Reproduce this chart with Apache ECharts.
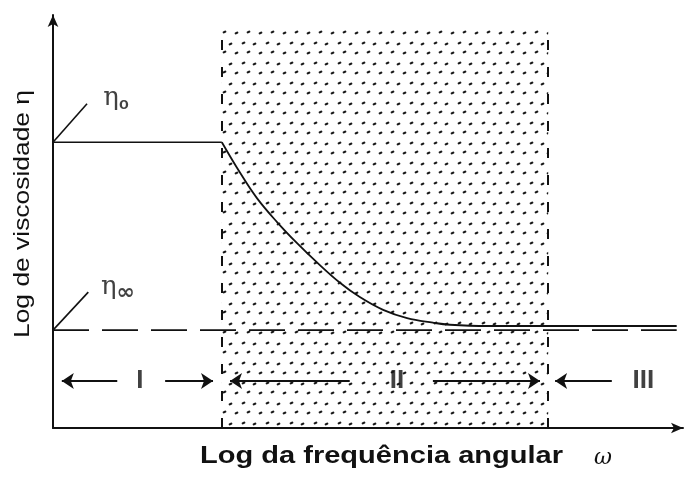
<!DOCTYPE html>
<html>
<head>
<meta charset="utf-8">
<script src="https://cdn.jsdelivr.net/npm/echarts@6/dist/echarts.min.js"></script>
<style>
  html, body { margin: 0; padding: 0; background: #fff; }
  #chart { width: 686px; height: 479px; }
</style>
</head>
<body>
<div id="chart"></div>
<script>
// Schematic: log viscosity vs log angular frequency, three regimes.
const axisRange = [0, 100];
const eta0 = 69.2;          // zero-shear plateau
const etaInf = 23.7;        // infinite-shear level
const regionBounds = [26.8, 78.6];
const regionTop = 96.4;

// Flow curve: plateau, thinning, then settling near eta-infinity
const curveX = [26.8, 29.7, 32.4, 35.6, 38.7, 41.9, 45.6, 48.7, 52.4, 56.2, 60.3, 63.0, 69.0, 75.7, 99.0];
const curveY = [69.2, 61.8, 55.6, 49.8, 44.8, 40.1, 35.1, 31.7, 28.6, 26.6, 25.5, 25.0, 24.7, 24.7, 24.7];

// Regime labels and arrows (tail x, tip x) on one row
const regionLabels = ['I', 'II', 'III'];
const regionLabelX = [13.8, 54.6, 93.7];
const arrowRowY = 11.4;
const arrowSpans = [[10.2, 1.4], [17.8, 25.4], [47.1, 28.1], [60.3, 77.3], [88.7, 79.7]];

// Eta annotations: leader line start/end and label anchor
const etaNames = ['0', 'inf'];
const etaLeaders = [[[0, 69.2], [5.4, 78.5]], [[0, 23.7], [5.6, 32.9]]];
const etaLabelPos = [[10.0, 79.8], [10.3, 34.0]];

// Dotted fill for the shaded middle regime (staggered rows of small dashes)
function dotPattern() {
  const c = document.createElement('canvas');
  c.width = 24; c.height = 20;
  const g = c.getContext('2d');
  g.fillStyle = '#1a1a1a';
  const dots = [[2, 2], [13, 3], [7, 11], [19, 12]];
  dots.forEach(d => {
    g.beginPath();
    g.ellipse(d[0] + 1.5, d[1] + 1, 2, 1.2, -0.4, 0, Math.PI * 2);
    g.fill();
  });
  return c;
}

const chart = echarts.init(document.getElementById('chart'), null, { renderer: 'canvas' });

const curveData = curveX.map((x, i) => [x, curveY[i]]);

chart.setOption({
  animation: false,
  backgroundColor: '#fff',
  grid: { left: 53, right: 3, top: 15, bottom: 51 },
  xAxis: {
    type: 'value', min: axisRange[0], max: axisRange[1],
    axisLine: { show: true, onZero: false, lineStyle: { color: '#111', width: 2 }, symbol: ['none', 'arrow'], symbolSize: [8, 12] },
    axisTick: { show: false }, axisLabel: { show: false }, splitLine: { show: false }
  },
  yAxis: {
    type: 'value', min: axisRange[0], max: axisRange[1],
    axisLine: { show: true, onZero: false, lineStyle: { color: '#111', width: 2 }, symbol: ['none', 'arrow'], symbolSize: [8, 12] },
    axisTick: { show: false }, axisLabel: { show: false }, splitLine: { show: false }
  },
  graphic: [
    {
      type: 'text', x: 200, y: 456, scaleX: 1.21,
      style: { text: 'Log da frequência angular', font: 'bold 24px "Liberation Sans", Arial, sans-serif', fill: '#111', textAlign: 'left', textVerticalAlign: 'middle' }
    },
    {
      type: 'text', x: 603, y: 458,
      style: { text: 'ω', font: 'italic 22px "DejaVu Serif", serif', fill: '#111', textAlign: 'center', textVerticalAlign: 'middle' }
    },
    {
      type: 'text', x: 23, y: 338, rotation: Math.PI / 2, scaleX: 1.2,
      style: { text: 'Log de viscosidade η', font: '22px "Liberation Sans", Arial, sans-serif', fill: '#111', textAlign: 'left', textVerticalAlign: 'middle' }
    }
  ],
  series: [
    {
      // shaded regime II
      type: 'line', data: [], silent: true,
      markArea: {
        silent: true,
        itemStyle: { color: { image: dotPattern(), repeat: 'repeat' }, borderWidth: 0 },
        data: [[{ coord: [regionBounds[0], 0] }, { coord: [regionBounds[1], regionTop] }]]
      }
    },
    {
      // regime borders
      type: 'lines', coordinateSystem: 'cartesian2d', silent: true,
      lineStyle: { color: '#111', width: 2, type: [10, 17], opacity: 1 },
      data: regionBounds.map(x => ({ coords: [[x, 0], [x, regionTop]] }))
    },
    {
      // eta-infinity dashed level
      type: 'line', silent: true, symbol: 'none',
      lineStyle: { color: '#111', width: 1.6, type: [36, 13] },
      data: [[0, etaInf], [99, etaInf]]
    },
    {
      // eta-zero plateau
      type: 'line', silent: true, symbol: 'none',
      lineStyle: { color: '#111', width: 1.6 },
      data: [[0, eta0], [regionBounds[0], eta0]]
    },
    {
      // viscosity curve
      type: 'line', silent: true, symbol: 'none', smooth: 0.4,
      lineStyle: { color: '#111', width: 1.8 },
      data: curveData
    },
    {
      // leader lines for eta labels
      type: 'lines', coordinateSystem: 'cartesian2d', silent: true,
      lineStyle: { color: '#111', width: 1.6, opacity: 1 },
      data: etaLeaders.map(c => ({ coords: c }))
    },
    {
      // regime arrows
      type: 'lines', coordinateSystem: 'cartesian2d', silent: true,
      symbol: ['none', 'arrow'], symbolSize: 12,
      lineStyle: { color: '#111', width: 1.8, opacity: 1 },
      data: arrowSpans.map(s => ({ coords: [[s[0], arrowRowY], [s[1], arrowRowY]] }))
    },
    {
      // regime numerals
      type: 'scatter', silent: true, symbolSize: 0,
      label: {
        show: true, position: 'inside', formatter: p => p.name,
        color: '#111', fontSize: 26, fontWeight: 'bold', fontFamily: '"Liberation Sans", Arial, sans-serif'
      },
      data: regionLabels.map((n, i) => ({ name: n, value: [regionLabelX[i], arrowRowY] }))
    },
    {
      // eta labels
      type: 'scatter', silent: true, symbolSize: 0,
      label: {
        show: true, position: 'inside',
        formatter: p => p.name === '0' ? '{e|η}{s|o}' : '{e|η}{i|∞}',
        rich: {
          e: { fontSize: 26, fontFamily: '"DejaVu Serif", serif', color: '#111' },
          s: { fontSize: 16, fontFamily: '"Liberation Sans", Arial, sans-serif', color: '#111', fontWeight: 'bold', padding: [12, 0, 0, 0] },
          i: { fontSize: 22, fontFamily: '"DejaVu Sans", sans-serif', color: '#111', fontWeight: 'bold', padding: [12, 0, 0, 0] }
        }
      },
      data: etaNames.map((n, i) => ({ name: n, value: etaLabelPos[i] }))
    }
  ]
});
</script>
</body>
</html>
